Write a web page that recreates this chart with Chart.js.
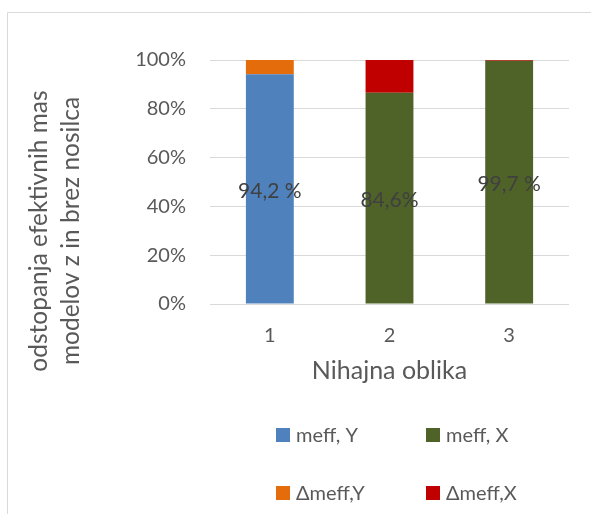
<!DOCTYPE html>
<html>
<head>
<meta charset="utf-8">
<script src="https://cdn.jsdelivr.net/npm/chart.js@4"></script>
<style>
  html, body { margin: 0; padding: 0; background: #fff; }
  #wrap { position: relative; width: 591px; height: 514px; }
</style>
</head>
<body>
<div id="wrap"><canvas id="chart" width="591" height="514"></canvas></div>
<script>
// podatki
const categories = ['1', '2', '3'];
const meffY = [94.2, 0, 0];
const dmeffY = [5.8, 0, 0];
const meffX = [0, 86.6, 99.7];
const dmeffX = [0, 13.4, 0.3];
const barLabels = ['94,2 %', '84,6%', '99,7 %'];
const yTitle = ['odstopanja efektivnih mas', 'modelov z in brez nosilca'];
const xTitle = 'Nihajna oblika';

const FONT = 'Lato';
const textColor = '#595959';

// okvir
const borderPlugin = {
    id: 'border',
    beforeDraw(chart) {
        const ctx = chart.ctx;
        ctx.save();
        ctx.fillStyle = '#fff';
        ctx.fillRect(0, 0, chart.width, chart.height);
        ctx.strokeStyle = '#d9d9d9';
        ctx.lineWidth = 1;
        ctx.beginPath();
        ctx.moveTo(7.5, chart.height);
        ctx.lineTo(7.5, 12.5);
        ctx.lineTo(chart.width, 12.5);
        ctx.stroke();
        ctx.restore();
    }
};

// naslov y osi (dve vrstici, zamaknjen navzdol kot v originalu)
const yTitlePlugin = {
    id: 'yTitle',
    afterDraw(chart) {
        const ctx = chart.ctx;
        ctx.save();
        ctx.font = '24.5px ' + FONT;
        ctx.fillStyle = textColor;
        ctx.textAlign = 'center';
        ctx.textBaseline = 'middle';
        yTitle.forEach((line, i) => {
            ctx.save();
            ctx.translate(39 + i * 32, 231);
            ctx.rotate(-Math.PI / 2);
            ctx.fillText(line, 0, 0);
            ctx.restore();
        });
        ctx.restore();
    }
};

// oznake vrednosti na stolpcih
const barLabelPlugin = {
    id: 'barLabels',
    afterDatasetsDraw(chart) {
        const ctx = chart.ctx;
        ctx.save();
        ctx.font = '21px ' + FONT;
        ctx.fillStyle = '#404040';
        ctx.textAlign = 'center';
        ctx.textBaseline = 'middle';
        barLabels.forEach((txt, i) => {
            // spodnji del stolpca (meff, Y ali meff, X)
            const dsIndex = meffY[i] > 0 ? 0 : 1;
            const bar = chart.getDatasetMeta(dsIndex).data[i];
            ctx.fillText(txt, bar.x, (bar.y + bar.base) / 2 + 2);
        });
        ctx.restore();
    }
};

// legenda 2x2
const legendPlugin = {
    id: 'gridLegend',
    afterDraw(chart) {
        const ctx = chart.ctx;
        const cols = [276, 426];
        const rows = [435, 493];
        ctx.save();
        ctx.font = '20px ' + FONT;
        ctx.textBaseline = 'middle';
        ctx.textAlign = 'left';
        chart.data.datasets.forEach((ds, i) => {
            const x = cols[i % 2];
            const y = rows[Math.floor(i / 2)];
            ctx.fillStyle = ds.backgroundColor;
            ctx.fillRect(x, y - 7, 14, 14);
            ctx.fillStyle = textColor;
            ctx.fillText(ds.label, x + 20, y + 1);
        });
        ctx.restore();
    }
};

const ctx = document.getElementById('chart').getContext('2d');
new Chart(ctx, {
    type: 'bar',
    data: {
        labels: categories,
        datasets: [
            { label: 'meff, Y', data: meffY, backgroundColor: '#4f81bd' },
            { label: 'meff, X', data: meffX, backgroundColor: '#4f6228' },
            { label: '\u0394meff,Y', data: dmeffY, backgroundColor: '#e46c0a' },
            { label: '\u0394meff,X', data: dmeffX, backgroundColor: '#c00000' }
        ]
    },
    options: {
        responsive: false,
        animation: false,
        categoryPercentage: 0.5,
        barPercentage: 0.8,
        layout: { padding: { left: 0, right: 22, top: 60, bottom: 128 } },
        plugins: {
            legend: { display: false },
            tooltip: { enabled: false }
        },
        scales: {
            x: {
                stacked: true,
                grid: { display: false, drawTicks: false },
                border: { display: false },
                ticks: { color: textColor, font: { family: FONT, size: 20 }, padding: 20 },
                title: {
                    display: true,
                    text: xTitle,
                    color: textColor,
                    font: { family: FONT, size: 25 },
                    padding: { top: 0, bottom: 0 }
                },
                afterFit(scale) { scale.height = 82; }
            },
            y: {
                stacked: true,
                min: 0,
                max: 100,
                ticks: {
                    stepSize: 20,
                    color: textColor,
                    font: { family: FONT, size: 20 },
                    padding: 24,
                    callback: v => v + '%'
                },
                grid: { color: '#d9d9d9', lineWidth: 1, drawTicks: false },
                border: { display: false },
                afterFit(scale) { scale.width = 210; }
            }
        }
    },
    plugins: [borderPlugin, yTitlePlugin, barLabelPlugin, legendPlugin]
});
</script>
</body>
</html>
